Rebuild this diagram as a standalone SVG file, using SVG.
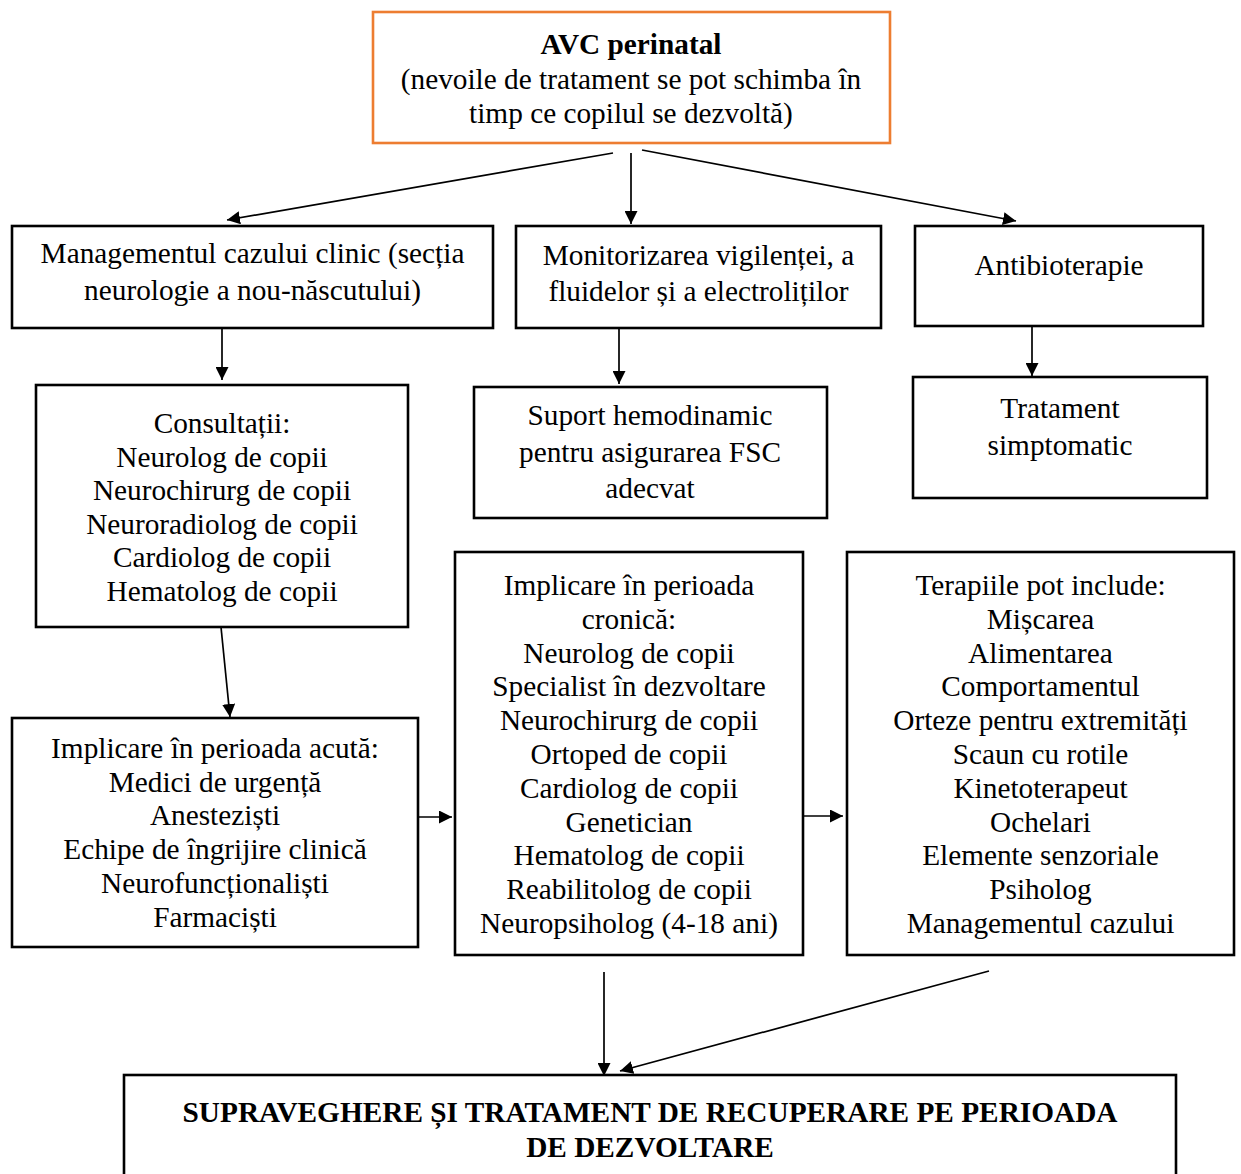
<svg xmlns="http://www.w3.org/2000/svg" width="1241" height="1174" viewBox="0 0 1241 1174">
<style>
.box{fill:#fff;stroke:#000;stroke-width:2.6}
.top{fill:#fff;stroke:#ED7D31;stroke-width:2.6}
text{font-family:"Liberation Serif","Times New Roman",serif;font-size:29.3px;fill:#000;text-anchor:middle}
.b{font-weight:bold}
.c{stroke:#000;stroke-width:1.7;fill:none;marker-end:url(#ah)}
</style>
<defs>
<marker id="ah" markerUnits="userSpaceOnUse" markerWidth="13" markerHeight="13" viewBox="0 0 13 13" refX="13" refY="6.5" orient="auto">
<path d="M0,0 L13,6.5 L0,13 z" fill="#000"/>
</marker>
</defs>
<rect width="1241" height="1174" fill="#fff"/>

<g id="connectors">
<line class="c" x1="613" y1="153" x2="227" y2="220"/>
<line class="c" x1="631" y1="153" x2="631" y2="224"/>
<line class="c" x1="642" y1="150" x2="1016" y2="221"/>
<line class="c" x1="222" y1="329" x2="222" y2="380"/>
<line class="c" x1="619" y1="329" x2="619" y2="384"/>
<line class="c" x1="1032" y1="327" x2="1032" y2="376"/>
<line class="c" x1="221" y1="627" x2="230" y2="717"/>
<line class="c" x1="418" y1="817" x2="452" y2="817"/>
<line class="c" x1="804" y1="816" x2="843" y2="816"/>
<line class="c" x1="604" y1="972" x2="604" y2="1076"/>
<line class="c" x1="989" y1="971" x2="620" y2="1071"/>
</g>

<g id="n-avc">
<rect class="top" x="373" y="12" width="517" height="131"/>
<text class="b" x="631" y="54">AVC perinatal</text>
<text x="631" y="88.5">(nevoile de tratament se pot schimba în</text>
<text x="631" y="123">timp ce copilul se dezvoltă)</text>
</g>

<g id="n-management">
<rect class="box" x="12" y="226" width="481" height="102"/>
<text x="252.5" y="263">Managementul cazului clinic (secția</text>
<text x="252.5" y="300">neurologie a nou-născutului)</text>
</g>

<g id="n-monitorizare">
<rect class="box" x="516" y="226" width="365" height="102"/>
<text x="698.5" y="265">Monitorizarea vigilenței, a</text>
<text x="698.5" y="301">fluidelor și a electroliților</text>
</g>

<g id="n-antibioterapie">
<rect class="box" x="915" y="226" width="288" height="100"/>
<text x="1059" y="275">Antibioterapie</text>
</g>

<g id="n-consultatii">
<rect class="box" x="36" y="385" width="372" height="242"/>
<text x="222" y="433">Consultații:</text>
<text x="222" y="466.6">Neurolog de copii</text>
<text x="222" y="500.2">Neurochirurg de copii</text>
<text x="222" y="533.8">Neuroradiolog de copii</text>
<text x="222" y="567.4">Cardiolog de copii</text>
<text x="222" y="601">Hematolog de copii</text>
</g>

<g id="n-suport">
<rect class="box" x="474" y="387" width="353" height="131"/>
<text x="650" y="425">Suport hemodinamic</text>
<text x="650" y="461.5">pentru asigurarea FSC</text>
<text x="650" y="498">adecvat</text>
</g>

<g id="n-tratament">
<rect class="box" x="913" y="377" width="294" height="121"/>
<text x="1060" y="418">Tratament</text>
<text x="1060" y="455">simptomatic</text>
</g>

<g id="n-acuta">
<rect class="box" x="12" y="718" width="406" height="229"/>
<text x="215" y="758">Implicare în perioada acută:</text>
<text x="215" y="791.7">Medici de urgență</text>
<text x="215" y="825.4">Anesteziști</text>
<text x="215" y="859.1">Echipe de îngrijire clinică</text>
<text x="215" y="892.8">Neurofuncționaliști</text>
<text x="215" y="926.5">Farmaciști</text>
</g>

<g id="n-cronica">
<rect class="box" x="455" y="552" width="348" height="403"/>
<text x="629" y="595">Implicare în perioada</text>
<text x="629" y="628.8">cronică:</text>
<text x="629" y="662.6">Neurolog de copii</text>
<text x="629" y="696.4">Specialist în dezvoltare</text>
<text x="629" y="730.2">Neurochirurg de copii</text>
<text x="629" y="764">Ortoped de copii</text>
<text x="629" y="797.8">Cardiolog de copii</text>
<text x="629" y="831.6">Genetician</text>
<text x="629" y="865.4">Hematolog de copii</text>
<text x="629" y="899.2">Reabilitolog de copii</text>
<text x="629" y="933">Neuropsiholog (4-18 ani)</text>
</g>

<g id="n-terapii">
<rect class="box" x="847" y="552" width="387" height="403"/>
<text x="1040.5" y="595">Terapiile pot include:</text>
<text x="1040.5" y="628.8">Mișcarea</text>
<text x="1040.5" y="662.6">Alimentarea</text>
<text x="1040.5" y="696.4">Comportamentul</text>
<text x="1040.5" y="730.2">Orteze pentru extremități</text>
<text x="1040.5" y="764">Scaun cu rotile</text>
<text x="1040.5" y="797.8">Kinetoterapeut</text>
<text x="1040.5" y="831.6">Ochelari</text>
<text x="1040.5" y="865.4">Elemente senzoriale</text>
<text x="1040.5" y="899.2">Psiholog</text>
<text x="1040.5" y="933">Managementul cazului</text>
</g>

<g id="n-supraveghere">
<rect class="box" x="124" y="1075" width="1052" height="130"/>
<text class="b" x="650" y="1122">SUPRAVEGHERE ȘI TRATAMENT DE RECUPERARE PE PERIOADA</text>
<text class="b" x="650" y="1157">DE DEZVOLTARE</text>
</g>
</svg>
